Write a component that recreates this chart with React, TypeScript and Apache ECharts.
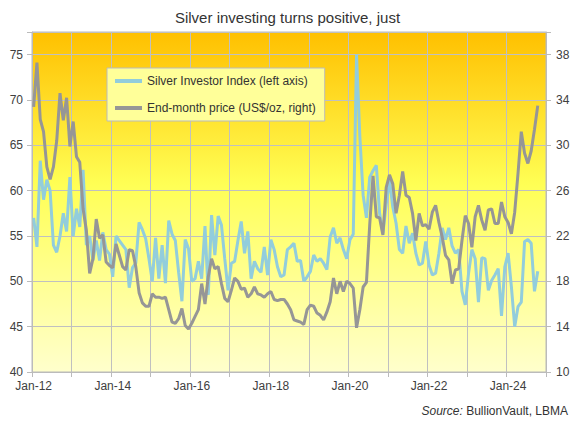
import * as echarts from "echarts";
import { useEffect, useRef } from "react";

const FONT = '"Liberation Sans", Arial, sans-serif';

const monthNames = ["Jan", "Feb", "Mar", "Apr", "May", "Jun", "Jul", "Aug", "Sep", "Oct", "Nov", "Dec"];
const years = ["12", "13", "14", "15", "16", "17", "18", "19", "20", "21", "22", "23", "24"];
const categories: string[] = [];
years.forEach((y) => monthNames.forEach((m) => categories.push(`${m}-${y}`)));

// Silver Investor Index (left axis), Jan-12 .. Oct-24
const investorIndex = [
	57, 53.8, 63.3, 59, 61.2, 60, 54, 53.2, 55, 57.5, 55.5, 61.5,
	55, 58, 56, 62.3, 54, 55, 52.3, 54.5, 52.3, 55.4, 53.5, 53,
	50.5, 55, 54.5, 54, 53.5, 49.3, 51.5, 52, 56.5, 55.7, 54.7, 52.5,
	50, 54.8, 50.3, 54, 49.8, 56.7, 55.2, 54.5, 51, 47.8, 54.6, 53.6,
	50.0, 50.3, 52.2, 50.3, 56.1, 48.5, 57.3, 52.9, 57.2, 56.2, 52.5, 49,
	52, 52.2, 54.5, 56.6, 53.1, 55.5, 50.3, 52.2, 51.4, 51, 53.8, 50.7,
	54.6, 53.5, 51.6, 50.5, 50.7, 53.5, 53.8, 54.2, 52.2, 52.3, 50, 50.5,
	51.1, 52.9, 52.2, 52.5, 52, 51.3, 54.9, 55.9, 54.2, 54.8, 53.5, 52.5,
	54.6, 55.2, 75, 66, 59.5, 57, 61.5, 62.2, 62.8, 57.5, 55.3, 58.5,
	61.2, 58.2, 56.4, 53.5, 53.1, 56.1, 54.2, 55.3, 53.1, 51.8, 52.0, 54.4,
	51.8, 50.7, 50.9, 53.1, 55.9, 54.6, 55.9, 53.9, 53.1, 53.5, 48.9, 47.4,
	50.9, 53.5, 52.5, 47.7, 52.6, 52.5, 49.0, 50.1, 50.7, 51.4, 46.2, 51.6,
	53.1, 49.4, 45.0, 47.2, 47.7, 54.4, 54.6, 54.2, 48.9, 51.1,
];

// End-month silver price, US$/oz (right axis)
const endMonthPrice = [
	33.4, 37.3, 32.3, 31.2, 28.1, 27.0, 28.1, 30.4, 34.6, 32.2, 34.2, 29.9,
	32.1, 29.0, 28.5, 24.4, 22.5, 18.7, 20.0, 23.5, 21.8, 22.1, 19.7, 19.4,
	19.2, 21.3, 20.3, 19.3, 19.0, 20.8, 20.7, 19.3, 17.0, 16.1, 15.8, 15.8,
	16.9, 16.6, 16.6, 16.5, 16.6, 15.5, 14.4, 14.3, 14.7, 15.6, 14.1, 13.8,
	14.3, 14.9, 15.5, 17.8, 16.0, 18.4, 20.0, 19.1, 19.3, 17.8, 16.5, 16.2,
	17.2, 18.3, 18.0, 17.3, 17.4, 16.6, 16.9, 17.5, 16.9, 16.8, 16.6, 16.9,
	17.1, 16.4, 16.3, 16.4, 16.4, 16.0, 15.5, 14.6, 14.5, 14.4, 14.2, 15.5,
	15.9, 15.8, 15.2, 15.0, 14.6, 15.3, 16.2, 18.3, 16.9, 18.0, 17.1, 18.0,
	17.8, 17.4, 13.9, 15.5, 17.5, 17.9, 23.0, 27.3, 23.7, 23.6, 22.1, 26.3,
	27.4, 26.6, 24.0, 25.6, 27.7, 25.6, 25.4, 24.0, 21.6, 24.0, 22.9, 23.0,
	22.6, 24.1, 24.7, 23.2, 21.9, 20.3, 19.9, 17.8, 19.0, 19.1, 21.6, 23.8,
	23.1, 21.0, 23.7, 24.7, 23.4, 22.5, 24.3, 24.4, 23.1, 23.1, 25.0, 23.7,
	23.2, 22.2, 24.1, 27.5, 31.2, 29.3, 28.4, 29.5, 31.4, 33.5,
];

export default function App() {
	const chartRef = useRef<HTMLDivElement>(null);

	useEffect(() => {
		if (!chartRef.current) return;
		const chart = echarts.init(chartRef.current, null, { renderer: "svg" });
		const axisText = { color: "#404040", fontSize: 12, fontFamily: FONT };
		chart.setOption({
			animation: false,
			textStyle: { fontFamily: FONT },
			title: {
				text: "Silver investing turns positive, just",
				left: "center",
				top: 5,
				textStyle: { fontSize: 15, fontWeight: "normal", color: "#333", fontFamily: FONT },
			},
			legend: {
				orient: "vertical",
				left: 107,
				top: 68,
				backgroundColor: "#ffff99",
				borderColor: "#bbbbbb",
				borderWidth: 1,
				padding: [7, 9, 7, 8],
				itemGap: 15,
				itemWidth: 27,
				itemHeight: 4,
				icon: "rect",
				textStyle: { fontSize: 12, color: "#333", fontFamily: FONT },
				data: ["Silver Investor Index (left axis)", "End-month price (US$/oz, right)"],
			},
			grid: {
				left: 32,
				right: 29,
				top: 32,
				bottom: 51,
				show: true,
				borderColor: "#bbbbbb",
				borderWidth: 1,
				backgroundColor: new echarts.graphic.LinearGradient(0, 0, 0, 1, [
					{ offset: 0, color: "#ffc000" },
					{ offset: 0.45, color: "#ffff55" },
					{ offset: 0.7, color: "#ffff8c" },
					{ offset: 1, color: "#ffffcc" },
				]),
			},
			xAxis: {
				type: "category",
				data: categories,
				boundaryGap: true,
				axisLine: { lineStyle: { color: "#bbbbbb" } },
				axisTick: { show: true, interval: 11, length: 5, lineStyle: { color: "#bbbbbb" } },
				axisLabel: { ...axisText, interval: 23, margin: 8 },
				splitLine: { show: true, interval: 11, lineStyle: { color: "#c0c0c0", width: 1 } },
			},
			yAxis: [
				{
					type: "value",
					position: "left",
					min: 40,
					max: 77.5,
					interval: 5,
					axisLine: { show: true, lineStyle: { color: "#bbbbbb" } },
					axisTick: { show: true, length: 5, lineStyle: { color: "#bbbbbb" } },
					axisLabel: { ...axisText, margin: 9, formatter: (v: number) => (v > 75 ? "" : String(v)) },
					splitLine: { show: true, lineStyle: { color: "#c0c0c0", width: 1 } },
				},
				{
					type: "value",
					position: "right",
					min: 10,
					max: 40,
					interval: 4,
					axisLine: { show: true, lineStyle: { color: "#bbbbbb" } },
					axisTick: { show: true, length: 5, lineStyle: { color: "#bbbbbb" } },
					axisLabel: { ...axisText, margin: 10, formatter: (v: number) => (v > 38 ? "" : String(v)) },
					splitLine: { show: false },
				},
			],
			series: [
				{
					name: "Silver Investor Index (left axis)",
					type: "line",
					yAxisIndex: 0,
					data: investorIndex,
					symbol: "none",
					color: "#92cddc",
					lineStyle: { width: 3, color: "#92cddc" },
				},
				{
					name: "End-month price (US$/oz, right)",
					type: "line",
					yAxisIndex: 1,
					data: endMonthPrice,
					symbol: "none",
					color: "#969696",
					lineStyle: { width: 3, color: "#969696" },
				},
			],
			graphic: [
				{
					type: "text",
					x: 568,
					y: 411,
					style: {
						text: "{i|Source:} BullionVault, LBMA",
						rich: { i: { fontStyle: "italic", fontSize: 12, fontFamily: FONT, fill: "#333" } },
						fontSize: 12,
						fontFamily: FONT,
						fill: "#333",
						align: "right",
						verticalAlign: "middle",
					},
				},
			],
		});
		return () => chart.dispose();
	}, []);

	return (
		<div
			ref={chartRef}
			style={{ position: "fixed", left: 0, top: 0, width: 575, height: 423, background: "#fff" }}
		/>
	);
}
